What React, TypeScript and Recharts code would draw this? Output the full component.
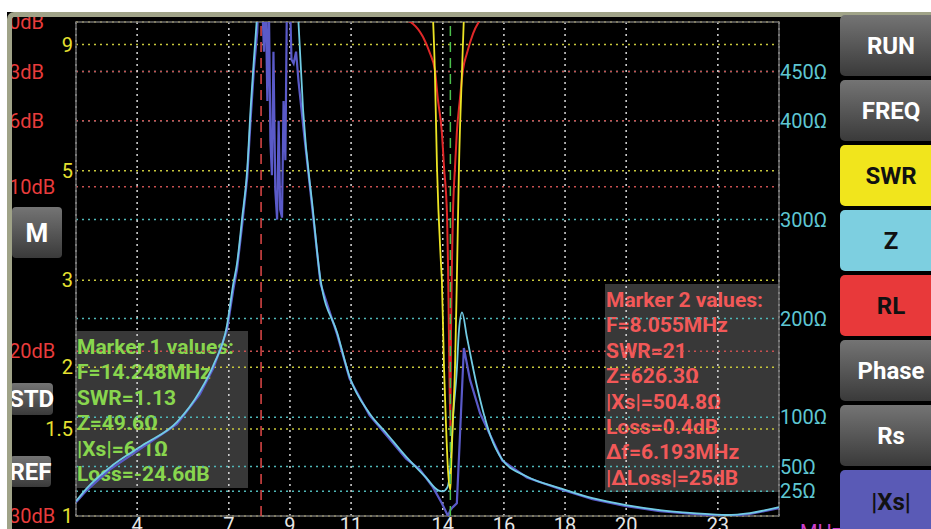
import { LineChart, Line, XAxis, YAxis, CartesianGrid, ReferenceLine, ReferenceArea, Label } from 'recharts';

// axis ticks
const freqTicks = [4, 7, 9, 11, 14, 16, 18, 20, 23];
const swrTicks = [1, 1.5, 2, 3, 5, 9];
const rlTicks = [0, 3, 6, 10, 20, 30];
const zTicks = [25, 50, 100, 200, 300, 400, 450];

// SWR (yellow, log scale)
const swrFreq = [13.55, 13.68, 13.74, 13.81, 13.94, 13.97, 14.04, 14.1, 14.17, 14.248, 14.27, 14.33, 14.4, 14.46, 14.53, 14.63, 14.69, 14.8];
const swrVals = [14, 10.2, 8, 5.1, 3.25, 3.0, 2.0, 1.56, 1.24, 1.13, 1.24, 1.56, 2.0, 3.0, 5.1, 8, 10.2, 14];

// return loss dB (red, 0 at top)
const rlFreq = [12.2, 12.5, 13.02, 13.35, 13.58, 13.74, 13.84, 13.97, 14.04, 14.14, 14.17, 14.2, 14.248, 14.27, 14.3, 14.33, 14.4, 14.46, 14.56, 14.66, 14.79, 14.99, 15.28, 15.5];
const rlVals = [-0.8, -0.3, 0.1, 0.9, 1.9, 2.9, 4.7, 6.7, 8.8, 11.8, 14.6, 18.7, 24.6, 18.7, 14.6, 11.8, 8.8, 6.7, 4.7, 2.9, 1.9, 0.7, -0.3, -0.8];

// |Z| ohms (light blue)
const zFreq = [2.0, 2.35, 3.1, 4.2, 5.3, 6.05, 6.5, 6.94, 7.14, 7.27, 7.43, 7.6, 7.72, 7.82, 7.92, 8.1, 8.6, 9.1, 9.27, 9.43, 9.75, 10.0, 10.55, 10.95, 11.6, 12.15, 12.8, 13.45, 13.85, 14.0, 14.15, 14.248, 14.33, 14.46, 14.53, 14.63, 14.79, 15.12, 15.55, 15.95, 16.75, 17.85, 18.9, 20.0, 21.1, 22.2, 23.3, 24.05, 25.0];
const zVals = [15, 28, 49, 72, 95, 126, 153, 193, 234, 256, 300, 350, 416, 462, 505, 620, 760, 620, 505, 411, 310, 239, 185, 141, 104, 84, 60, 39, 26, 25, 29, 49.6, 97, 148, 188, 206, 181, 131, 82, 57, 40, 28, 18, 11, 6, 3, 1, 3, 9];

// |Xs| ohms (blue)
const xsFreq = [2.0, 2.35, 3.1, 4.2, 5.3, 6.05, 6.5, 6.94, 7.14, 7.27, 7.43, 7.6, 7.72, 7.82, 7.93, 8.0, 8.08, 8.15, 8.2, 8.26, 8.31, 8.36, 8.41, 8.46, 8.52, 8.58, 8.63, 8.68, 8.74, 8.79, 8.85, 8.9, 8.97, 9.05, 9.12, 9.2, 9.28, 9.45, 9.77, 10.0, 10.55, 10.95, 11.6, 12.15, 12.8, 13.25, 13.68, 13.97, 14.17, 14.248, 14.33, 14.46, 14.56, 14.69, 14.89, 15.22, 15.55, 15.95, 16.75, 17.85, 18.9, 20.0, 21.1, 22.2, 23.3, 24.05, 25.0];
const xsVals = [14, 26, 47, 70, 93, 123, 150, 188, 228, 250, 293, 342, 405, 452, 490, 560, 530, 470, 540, 420, 520, 380, 345, 470, 330, 300, 400, 310, 302, 420, 360, 520, 560, 462, 458, 470, 440, 390, 300, 235, 183, 139, 102, 82, 58, 47, 29, 13, 0, 6.1, 9, 13, 80, 170, 138, 104, 82, 56, 39, 27, 17, 10, 5, 2, 0, 2, 8];

const marker1Freq = 14.248;
const marker2Freq = 8.055;
const marker1Lines = ['Marker 1 values:', 'F=14.248MHz', 'SWR=1.13', 'Z=49.6Ω', '|Xs|=6.1Ω', 'Loss=-24.6dB'];
const marker2Lines = ['Marker 2 values:', 'F=8.055MHz', 'SWR=21', 'Z=626.3Ω', '|Xs|=504.8Ω', 'Loss=0.4dB', 'Δf=6.193MHz', '|ΔLoss|=25dB'];

const toPoints = (f: number[], v: number[]) => f.map((x, i) => ({ f: x, v: v[i] }));

const FONT = 'Roboto, sans-serif';
const GRAY = 'linear-gradient(#747474, #3a3a3a)';

const panelButtons = [
  { label: 'RUN', bg: GRAY, color: '#fff' },
  { label: 'FREQ', bg: GRAY, color: '#fff' },
  { label: 'SWR', bg: '#f1e51c', color: '#111' },
  { label: 'Z', bg: '#7dcfe0', color: '#111' },
  { label: 'RL', bg: '#e8393a', color: '#111' },
  { label: 'Phase', bg: GRAY, color: '#fff' },
  { label: 'Rs', bg: GRAY, color: '#fff' },
  { label: '|Xs|', bg: '#5a5ab6', color: '#111' },
];

// plain svg text tick, so short labels like "2" are never dropped or wrapped
const SwrTick = (props: any) => {
  const { x, y, payload } = props;
  return (
    <text x={x} y={y} dy={7} textAnchor="end" fill="#e6e030" fontSize={20} fontFamily={FONT}>
      {payload.value}
    </text>
  );
};

const MarkerBox = ({ left, top, width, color, lines }: { left: number; top: number; width: number; color: string; lines: string[] }) => (
  <div style={{
    position: 'absolute', left, top, width, padding: '4px 0 1px 1px',
    background: 'rgba(62,62,62,0.9)', color, fontFamily: FONT, fontWeight: 700,
    fontSize: 21, lineHeight: '25.4px', whiteSpace: 'nowrap', zIndex: 1,
  }}>
    {lines.map((l) => <div key={l}>{l}</div>)}
  </div>
);

const SideButton = ({ label, left, top, width, height, fontSize }: { label: string; left: number; top: number; width: number; height: number; fontSize: number }) => (
  <div style={{
    position: 'absolute', left, top, width, height, background: GRAY, borderRadius: 4,
    color: '#fff', fontFamily: FONT, fontWeight: 700, fontSize, display: 'flex',
    alignItems: 'center', justifyContent: 'center', zIndex: 3,
  }}>{label}</div>
);

export default function App() {
  const swrData = toPoints(swrFreq, swrVals);
  const rlData = toPoints(rlFreq, rlVals);
  const zData = toPoints(zFreq, zVals);
  const xsData = toPoints(xsFreq, xsVals);

  return (
    <div style={{ position: 'absolute', left: 0, top: 0, width: 931, height: 529, overflow: 'hidden', background: '#000' }}>
      <MarkerBox left={76} top={331} width={171} color="#88d64e" lines={marker1Lines} />
      <MarkerBox left={605} top={284} width={173} color="#f25858" lines={marker2Lines} />

      <div style={{ position: 'absolute', left: 0, top: 0, zIndex: 2 }}>
        <LineChart width={931} height={529} margin={{ top: 22, right: 89, bottom: 0, left: 0 }}
          style={{ fontFamily: FONT }}>
          <XAxis xAxisId={0} type="number" dataKey="f" domain={[2, 25]} ticks={freqTicks} interval={0}
            allowDataOverflow height={13} axisLine={false} tickLine={false} tickSize={0} tickMargin={2}
            tick={{ fill: '#e6e6e6', fontSize: 20 }}>
            <Label value="MHz" position="right" offset={21} dy={9} fill="#cc3fcc" fontSize={20} />
          </XAxis>
          {/* left axes: inner one (swr) must sort first */}
          <YAxis yAxisId="a-swr" orientation="left" scale="log" domain={[1, 10]} ticks={swrTicks} interval={0}
            minTickGap={0} allowDataOverflow width={26} axisLine={false} tickLine={false} tickSize={0} tickMargin={3}
            tick={<SwrTick />} />
          <YAxis yAxisId="b-rl" orientation="left" reversed domain={[0, 30]} ticks={rlTicks} interval={0}
            allowDataOverflow width={50} axisLine={false} tickLine={false} tickSize={0} tickMargin={41}
            tickFormatter={(v) => `${v}dB`} tick={{ fill: '#e83c3c', fontSize: 20, textAnchor: 'start' }} />
          <YAxis yAxisId="z" orientation="right" domain={[0, 500]} ticks={zTicks} interval={0}
            allowDataOverflow width={63} axisLine={false} tickLine={false} tickSize={0} tickMargin={1}
            tickFormatter={(v) => `${v}Ω`} tick={{ fill: '#5ec6d2', fontSize: 20 }} />

          <CartesianGrid yAxisId="z" vertical={false} stroke="#4fb8b8" strokeWidth={1.5} strokeDasharray="2 4" />
          <CartesianGrid yAxisId="b-rl" vertical={false} stroke="#c85050" strokeWidth={1.5} strokeDasharray="2 4" />
          <CartesianGrid yAxisId="a-swr" vertical={false} stroke="#c8c83c" strokeWidth={1.5} strokeDasharray="2 4" />
          <CartesianGrid yAxisId="z" horizontal={false} stroke="#d8d8d8" strokeWidth={1.5} strokeDasharray="2 4" />

          <Line yAxisId="z" data={xsData} dataKey="v" type="linear" stroke="#5a5ac8" strokeWidth={2.2} dot={false} isAnimationActive={false} />
          <Line yAxisId="z" data={zData} dataKey="v" type="monotone" stroke="#72cce4" strokeWidth={1.8} dot={false} isAnimationActive={false} />
          <Line yAxisId="b-rl" data={rlData} dataKey="v" type="monotone" stroke="#e02828" strokeWidth={2} dot={false} isAnimationActive={false} />
          <Line yAxisId="a-swr" data={swrData} dataKey="v" type="monotone" stroke="#ece424" strokeWidth={1.8} dot={false} isAnimationActive={false} />

          <ReferenceLine yAxisId="z" x={marker2Freq} stroke="#e04848" strokeWidth={1.5} strokeDasharray="10 6" />
          <ReferenceLine yAxisId="z" x={marker1Freq} stroke="#4cc04c" strokeWidth={1.5} strokeDasharray="10 6" />
          <ReferenceArea yAxisId="z" x1={2} x2={25} y1={0} y2={500} fill="none" stroke="#6e6e6e" strokeWidth={1.5} />
        </LineChart>
      </div>

      <SideButton label="M" left={12} top={207} width={50} height={51} fontSize={26} />
      <SideButton label="STD" left={10} top={383} width={43} height={32} fontSize={24} />
      <SideButton label="REF" left={10} top={456} width={41} height={31} fontSize={24} />

      {/* frame around the plot screen */}
      <div style={{ position: 'absolute', left: 0, top: 0, width: 931, height: 12, background: '#fff', zIndex: 4 }} />
      <div style={{ position: 'absolute', left: 0, top: 0, width: 7, height: 529, background: '#fff', zIndex: 4 }} />
      <div style={{
        position: 'absolute', left: 7, top: 12, width: 960, height: 560, boxSizing: 'border-box',
        borderLeft: '5px solid #a0a388', borderTop: '5px solid #a0a388', borderTopLeftRadius: 7, zIndex: 4,
      }} />

      {panelButtons.map((b, i) => (
        <div key={b.label} style={{
          position: 'absolute', left: 840, top: 15 + i * 65, width: 104, height: i === 7 ? 64 : 61,
          background: b.bg, color: b.color, borderRadius: 5, fontFamily: FONT, fontWeight: 700, fontSize: 24,
          display: 'flex', alignItems: 'center', justifyContent: 'center', zIndex: 5, paddingRight: 2, boxSizing: 'border-box',
        }}>{b.label}</div>
      ))}
    </div>
  );
}
